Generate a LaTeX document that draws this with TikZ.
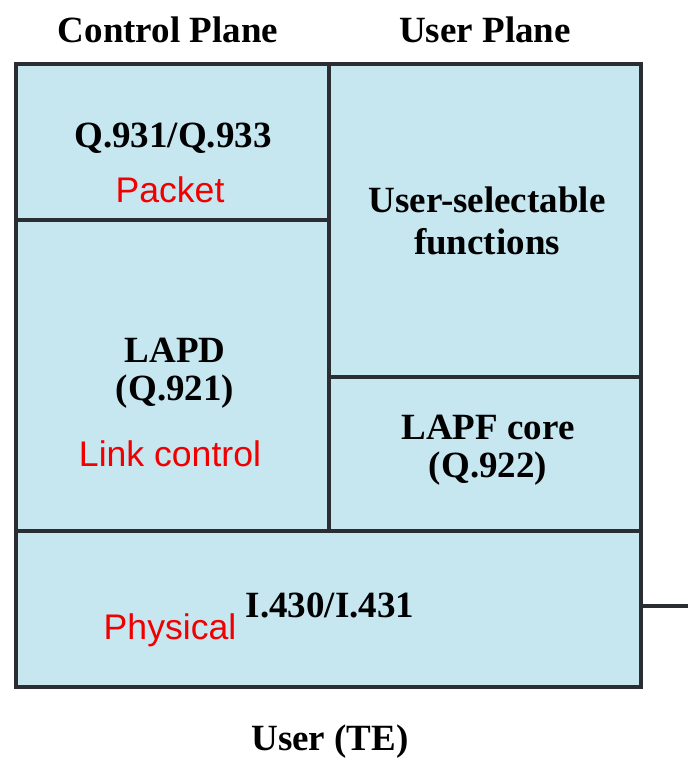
\documentclass[tikz,border=0pt]{standalone}
\usepackage{fontspec}
\setmainfont{Liberation Serif}
\newfontfamily\notefont{Liberation Sans}
\usepackage{xcolor}
\definecolor{planeblue}{RGB}{198,230,240}
\definecolor{edgegray}{RGB}{42,46,50}
\definecolor{notered}{RGB}{240,0,0}

\begin{document}
\begin{tikzpicture}[x=1pt, y=-1pt,
  layer/.style={draw=edgegray, fill=planeblue, line width=3.5pt, inner sep=0pt},
  proto/.style={font=\fontsize{37}{38}\selectfont\bfseries, align=center, inner sep=0pt},
  note/.style={font=\notefont\fontsize{35.6}{40}\selectfont, text=notered, inner sep=0pt}]
  \useasboundingbox (0,0) rectangle (688,758);
  % headings
  \node[proto] (cplane) at (168,30) {Control Plane};
  \node[proto] (uplane) at (485,30) {User Plane};
  % layer boxes
  \node[layer, minimum width=313pt, minimum height=156pt] (q931) at (172.5,142) {};
  \node[layer, minimum width=313pt, minimum height=311pt] (lapd) at (172.5,375.5) {};
  \node[layer, minimum width=312pt, minimum height=313pt] (usel) at (485,220.5) {};
  \node[layer, minimum width=312pt, minimum height=154pt] (lapf) at (485,454) {};
  \node[layer, minimum width=625pt, minimum height=156pt] (phys) at (328.5,609) {};
  % protocol names
  \node[proto] (q931txt) at (173,138) {Q.931/Q.933};
  \node[proto, font=\fontsize{37}{42}\selectfont\bfseries] (useltxt) at (487,221) {User-selectable\\functions};
  \node[proto] (lapdtxt) at (175,373) {LAPD\\(Q.921)};
  \node[proto] (lapftxt) at (488,450) {LAPF core\\(Q.922)};
  \node[proto] (phystxt) at (330,605) {I.430/I.431};
  \node[proto] (user) at (330,742) {User (TE)};
  % red layer notes
  \node[note] (packet) at (170,190) {Packet};
  \node[note] (link) at (170,454) {Link control};
  \node[note] (physical) at (170,630) {Physical};
  % line to the network
  \coordinate (tail) at (688,606);
  \draw[edgegray, line width=3.5pt] (phys.east |- tail) -- (tail);
\end{tikzpicture}
\end{document}
